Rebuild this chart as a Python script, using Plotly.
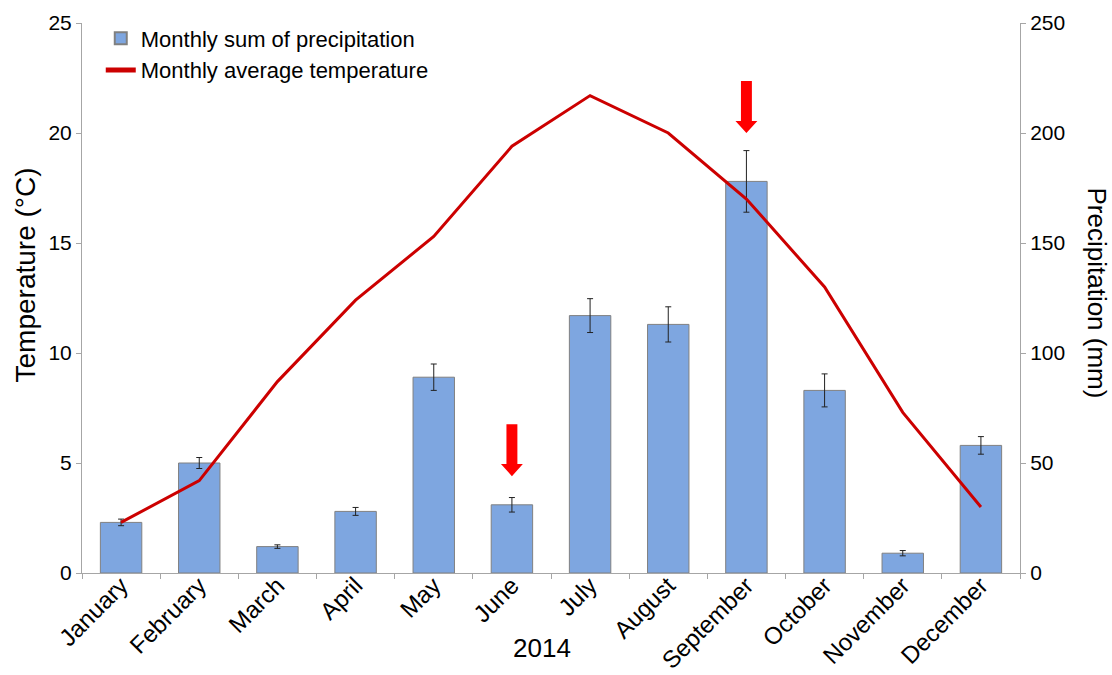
import plotly.graph_objects as go

# Monthly climate data, 2014
months = ["January", "February", "March", "April", "May", "June",
          "July", "August", "September", "October", "November", "December"]
precip_mm = [23, 50, 12, 28, 89, 31, 117, 113, 178, 83, 9, 58]
precip_err = [1.5, 2.5, 0.8, 1.8, 6, 3.3, 7.7, 8, 14, 7.5, 1.2, 4]
temp_c = [2.3, 4.2, 8.7, 12.4, 15.3, 19.4, 21.7, 20.0, 17.0, 13.0, 7.3, 3.0]

# Highlighted months (arrow tip height in mm on the precipitation axis)
arrow_months = ["June", "September"]
arrow_tip_mm = [44, 200]

FONT = "Liberation Sans, Arial, sans-serif"
AXIS_GRAY = "#a6a6a6"

fig = go.Figure()

# Bars on the primary (right-hand) precipitation axis, drawn first
fig.add_trace(go.Bar(
    x=months, y=precip_mm, yaxis="y",
    name="Monthly sum of precipitation",
    width=0.53,
    marker=dict(color="#7ea6e0", line=dict(color="#808080", width=1)),
    error_y=dict(type="data", array=precip_err, color="#222222",
                 thickness=1, width=3),
))

# Temperature line on the overlaying left axis, drawn above the bars
fig.add_trace(go.Scatter(
    x=months, y=temp_c, yaxis="y2",
    name="Monthly average temperature",
    mode="lines",
    line=dict(color="#cc0000", width=3),
))

# Red down-pointing block arrows above the highlighted months
shapes = []
arrow_len = 23.6     # mm, total arrow length
head_len = 5.5       # mm, arrowhead length
shaft_hw = 0.07      # half width of shaft (category units)
head_hw = 0.14       # half width of head (category units)
for m, tip in zip(arrow_months, arrow_tip_mm):
    cx = months.index(m)
    top = tip + arrow_len
    neck = tip + head_len
    path = (f"M {cx - shaft_hw},{top} L {cx + shaft_hw},{top} "
            f"L {cx + shaft_hw},{neck} L {cx + head_hw},{neck} "
            f"L {cx},{tip} L {cx - head_hw},{neck} "
            f"L {cx - shaft_hw},{neck} Z")
    shapes.append(dict(type="path", path=path, xref="x", yref="y",
                       fillcolor="#ff0000", line=dict(width=0)))

fig.update_layout(
    width=1112, height=675,
    margin=dict(l=82, r=92, t=23, b=102),
    paper_bgcolor="white", plot_bgcolor="white",
    font=dict(family=FONT, size=21, color="#000000"),
    showlegend=True,
    legend=dict(x=0.02, y=1.01, xanchor="left", yanchor="top",
                bgcolor="rgba(255,255,255,0)", font=dict(size=22),
                tracegroupgap=0, itemsizing="constant"),
    shapes=shapes,
    xaxis=dict(
        type="category", automargin=False,
        showline=True, linecolor=AXIS_GRAY, linewidth=1,
        ticks="outside", tickson="boundaries", ticklen=5, tickcolor=AXIS_GRAY,
        tickangle=-45, tickfont=dict(size=24), ticklabelstandoff=-12,
        showgrid=False, zeroline=False,
    ),
    yaxis=dict(
        range=[0, 250], tickvals=[0, 50, 100, 150, 200, 250],
        side="right", automargin=False,
        showline=True, linecolor=AXIS_GRAY, linewidth=1,
        ticks="outside", ticklen=5, tickcolor=AXIS_GRAY,
        showgrid=False, zeroline=False,
        tickfont=dict(size=21),
    ),
    yaxis2=dict(
        range=[0, 25], tickvals=[0, 5, 10, 15, 20, 25],
        overlaying="y", side="left", automargin=False,
        showline=True, linecolor=AXIS_GRAY, linewidth=1,
        ticks="outside", ticklen=5, tickcolor=AXIS_GRAY,
        showgrid=False, zeroline=False,
        tickfont=dict(size=21),
    ),
    annotations=[
        dict(text="Temperature (°C)", textangle=-90,
             xref="paper", yref="paper", x=0, y=0.541,
             xanchor="center", yanchor="middle", xshift=-57,
             showarrow=False, font=dict(size=28)),
        dict(text="Precipitation (mm)", textangle=90,
             xref="paper", yref="paper", x=1.0, y=0.51,
             xanchor="center", yanchor="middle", xshift=77,
             showarrow=False, font=dict(size=26)),
        dict(text="2014",
             xref="paper", yref="paper", x=0.49, y=0,
             xanchor="center", yanchor="middle", yshift=-75,
             showarrow=False, font=dict(size=26)),
    ],
)

fig.write_html("out.html")
